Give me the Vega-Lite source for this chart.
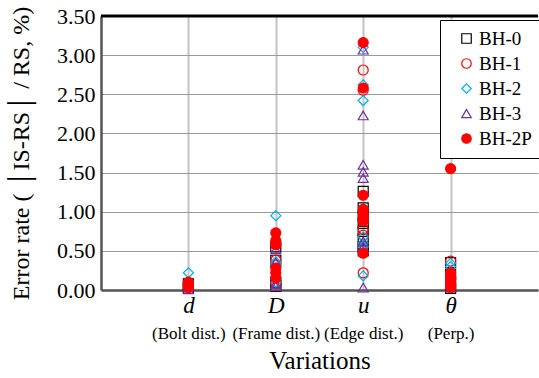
{
  "$schema": "https://vega.github.io/schema/vega-lite/v6.json",
  "width": 437,
  "height": 274,
  "autosize": {"type": "none"},
  "padding": {"left": 101, "top": 16, "right": 1, "bottom": 88},
  "config": {
    "view": {"stroke": null},
    "font": "Liberation Serif",
    "axis": {"labelFont": "Liberation Serif", "titleFont": "Liberation Serif", "labelColor": "#000", "titleColor": "#000", "titleFontWeight": "normal"},
    "legend": {"labelFont": "Liberation Serif", "titleFont": "Liberation Serif"}
  },
  "datasets": {
    "points": [
      {"variation": "d", "series": "BH-0", "value": 0.02},
      {"variation": "d", "series": "BH-0", "value": 0.05},
      {"variation": "d", "series": "BH-0", "value": 0.08},
      {"variation": "D", "series": "BH-0", "value": 0.55},
      {"variation": "D", "series": "BH-0", "value": 0.38},
      {"variation": "D", "series": "BH-0", "value": 0.1},
      {"variation": "D", "series": "BH-0", "value": 0.05},
      {"variation": "u", "series": "BH-0", "value": 1.26},
      {"variation": "u", "series": "BH-0", "value": 1.05},
      {"variation": "u", "series": "BH-0", "value": 0.95},
      {"variation": "u", "series": "BH-0", "value": 0.85},
      {"variation": "u", "series": "BH-0", "value": 0.75},
      {"variation": "u", "series": "BH-0", "value": 0.65},
      {"variation": "u", "series": "BH-0", "value": 0.55},
      {"variation": "u", "series": "BH-0", "value": 0.5},
      {"variation": "θ", "series": "BH-0", "value": 0.35},
      {"variation": "θ", "series": "BH-0", "value": 0.2},
      {"variation": "θ", "series": "BH-0", "value": 0.1},
      {"variation": "θ", "series": "BH-0", "value": 0.02},

      {"variation": "d", "series": "BH-1", "value": 0.03},
      {"variation": "d", "series": "BH-1", "value": 0.07},
      {"variation": "D", "series": "BH-1", "value": 0.58},
      {"variation": "D", "series": "BH-1", "value": 0.38},
      {"variation": "D", "series": "BH-1", "value": 0.32},
      {"variation": "D", "series": "BH-1", "value": 0.08},
      {"variation": "u", "series": "BH-1", "value": 2.81},
      {"variation": "u", "series": "BH-1", "value": 2.55},
      {"variation": "u", "series": "BH-1", "value": 0.9},
      {"variation": "u", "series": "BH-1", "value": 0.78},
      {"variation": "u", "series": "BH-1", "value": 0.7},
      {"variation": "u", "series": "BH-1", "value": 0.22},
      {"variation": "θ", "series": "BH-1", "value": 0.37},
      {"variation": "θ", "series": "BH-1", "value": 0.15},
      {"variation": "θ", "series": "BH-1", "value": 0.05},

      {"variation": "d", "series": "BH-2", "value": 0.22},
      {"variation": "d", "series": "BH-2", "value": 0.05},
      {"variation": "D", "series": "BH-2", "value": 0.95},
      {"variation": "D", "series": "BH-2", "value": 0.36},
      {"variation": "D", "series": "BH-2", "value": 0.33},
      {"variation": "D", "series": "BH-2", "value": 0.1},
      {"variation": "u", "series": "BH-2", "value": 3.1},
      {"variation": "u", "series": "BH-2", "value": 2.62},
      {"variation": "u", "series": "BH-2", "value": 2.42},
      {"variation": "u", "series": "BH-2", "value": 0.68},
      {"variation": "u", "series": "BH-2", "value": 0.6},
      {"variation": "u", "series": "BH-2", "value": 0.55},
      {"variation": "u", "series": "BH-2", "value": 0.18},
      {"variation": "θ", "series": "BH-2", "value": 0.34},
      {"variation": "θ", "series": "BH-2", "value": 0.3},
      {"variation": "θ", "series": "BH-2", "value": 0.1},

      {"variation": "d", "series": "BH-3", "value": 0.01},
      {"variation": "d", "series": "BH-3", "value": 0.04},
      {"variation": "D", "series": "BH-3", "value": 0.52},
      {"variation": "D", "series": "BH-3", "value": 0.35},
      {"variation": "D", "series": "BH-3", "value": 0.08},
      {"variation": "D", "series": "BH-3", "value": 0.05},
      {"variation": "u", "series": "BH-3", "value": 3.07},
      {"variation": "u", "series": "BH-3", "value": 2.23},
      {"variation": "u", "series": "BH-3", "value": 1.6},
      {"variation": "u", "series": "BH-3", "value": 1.51},
      {"variation": "u", "series": "BH-3", "value": 1.43},
      {"variation": "u", "series": "BH-3", "value": 0.62},
      {"variation": "u", "series": "BH-3", "value": 0.55},
      {"variation": "u", "series": "BH-3", "value": 0.03},
      {"variation": "θ", "series": "BH-3", "value": 0.03},
      {"variation": "θ", "series": "BH-3", "value": 0.08},

      {"variation": "d", "series": "BH-2P", "value": 0.03},
      {"variation": "d", "series": "BH-2P", "value": 0.06},
      {"variation": "d", "series": "BH-2P", "value": 0.1},
      {"variation": "D", "series": "BH-2P", "value": 0.73},
      {"variation": "D", "series": "BH-2P", "value": 0.63},
      {"variation": "D", "series": "BH-2P", "value": 0.58},
      {"variation": "D", "series": "BH-2P", "value": 0.28},
      {"variation": "D", "series": "BH-2P", "value": 0.22},
      {"variation": "D", "series": "BH-2P", "value": 0.15},
      {"variation": "u", "series": "BH-2P", "value": 3.16},
      {"variation": "u", "series": "BH-2P", "value": 2.58},
      {"variation": "u", "series": "BH-2P", "value": 1.21},
      {"variation": "u", "series": "BH-2P", "value": 1.03},
      {"variation": "u", "series": "BH-2P", "value": 0.98},
      {"variation": "u", "series": "BH-2P", "value": 0.93},
      {"variation": "u", "series": "BH-2P", "value": 0.88},
      {"variation": "u", "series": "BH-2P", "value": 0.47},
      {"variation": "θ", "series": "BH-2P", "value": 1.55},
      {"variation": "θ", "series": "BH-2P", "value": 0.22},
      {"variation": "θ", "series": "BH-2P", "value": 0.17},
      {"variation": "θ", "series": "BH-2P", "value": 0.12},
      {"variation": "θ", "series": "BH-2P", "value": 0.07},
      {"variation": "θ", "series": "BH-2P", "value": 0.03}
    ],
    "subs": [
      {"sub": "(Bolt dist.)"},
      {"sub": "(Frame dist.)"},
      {"sub": "(Edge dist.)"},
      {"sub": "(Perp.)"}
    ]
  },
  "layer": [
    {
      "data": {"name": "points"},
      "mark": {"type": "point", "size": 100, "strokeWidth": 1.2, "opacity": 1},
      "encoding": {
        "x": {
          "field": "variation",
          "type": "nominal",
          "sort": null,
          "scale": {"type": "point", "domain": ["d", "D", "u", "θ"], "padding": 1},
          "axis": {
            "orient": "bottom",
            "title": null,
            "labelAngle": 0,
            "labelFont": "Liberation Serif",
            "labelFontStyle": "italic",
            "labelFontSize": 23,
            "labelColor": "#000",
            "labelPadding": 4,
            "ticks": false,
            "grid": true,
            "gridColor": "#c4c4c4",
            "gridWidth": 2,
            "domainColor": "#555",
            "domainWidth": 2.5
          }
        },
        "y": {
          "field": "value",
          "type": "quantitative",
          "scale": {"domain": [0, 3.5], "nice": false, "zero": true},
          "axis": {
            "title": "Error rate ( │IS-RS│ / RS, %)",
            "titleFont": "Liberation Serif",
            "titleFontSize": 24,
            "titleFontWeight": "normal",
            "titleColor": "#000",
            "titlePadding": 23,
            "values": [0, 0.5, 1, 1.5, 2, 2.5, 3, 3.5],
            "format": ".2f",
            "labelFont": "Liberation Serif",
            "labelFontSize": 22,
            "labelColor": "#000",
            "labelPadding": 6,
            "labelOverlap": false,
            "labelFlush": false,
            "ticks": false,
            "grid": true,
            "gridColor": "#9a9a9a",
            "gridWidth": 1,
            "domainColor": "#555",
            "domainWidth": 2.5
          }
        },
        "shape": {
          "field": "series",
          "type": "nominal",
          "scale": {
            "domain": ["BH-0", "BH-1", "BH-2", "BH-3", "BH-2P"],
            "range": ["square", "circle", "diamond", "triangle-up", "circle"]
          },
          "legend": {
            "title": null,
            "orient": "none",
            "legendX": 339,
            "legendY": 4,
            "padding": 9,
            "strokeColor": "#000",
            "fillColor": "#fff",
            "labelFont": "Liberation Serif",
            "labelFontSize": 19,
            "labelColor": "#000",
            "labelOffset": 3,
            "rowPadding": 5,
            "symbolSize": 90,
            "symbolStrokeWidth": 1.2,
            "symbolOffset": 8
          }
        },
        "stroke": {
          "field": "series",
          "type": "nominal",
          "scale": {
            "domain": ["BH-0", "BH-1", "BH-2", "BH-3", "BH-2P"],
            "range": ["#000000", "#ff0000", "#00b0f0", "#7030a0", "#ff0000"]
          },
          "legend": {"title": null}
        },
        "fill": {
          "field": "series",
          "type": "nominal",
          "scale": {
            "domain": ["BH-0", "BH-1", "BH-2", "BH-3", "BH-2P"],
            "range": ["transparent", "transparent", "transparent", "transparent", "#ff0000"]
          },
          "legend": {"title": null}
        }
      }
    },
    {
      "data": {"name": "subs"},
      "mark": {"type": "text", "opacity": 0, "text": ""},
      "encoding": {
        "x": {
          "field": "sub",
          "type": "nominal",
          "sort": null,
          "scale": {"type": "point", "domain": ["(Bolt dist.)", "(Frame dist.)", "(Edge dist.)", "(Perp.)"], "padding": 1},
          "axis": {
            "orient": "bottom",
            "title": "Variations",
            "titleFont": "Liberation Serif",
            "titleFontSize": 25,
            "titleFontWeight": "normal",
            "titleColor": "#000",
            "titlePadding": 7,
            "labelAngle": 0,
            "labelFont": "Liberation Serif",
            "labelFontSize": 17,
            "labelColor": "#000",
            "labelPadding": 35,
            "labelOverlap": false,
            "ticks": false,
            "grid": false,
            "domain": false
          }
        }
      }
    },
    {
      "data": {"values": [{}]},
      "mark": {"type": "rule", "color": "#000", "strokeWidth": 3},
      "encoding": {
        "y": {
          "datum": 3.5,
          "type": "quantitative",
          "axis": {
            "title": "Error rate ( │IS-RS│ / RS, %)",
            "titleFont": "Liberation Serif",
            "titleFontSize": 24,
            "titleFontWeight": "normal",
            "titleColor": "#000",
            "titlePadding": 23,
            "values": [0, 0.5, 1, 1.5, 2, 2.5, 3, 3.5],
            "format": ".2f",
            "labelFont": "Liberation Serif",
            "labelFontSize": 22,
            "labelColor": "#000",
            "labelPadding": 6,
            "labelOverlap": false,
            "labelFlush": false,
            "ticks": false,
            "grid": true,
            "gridColor": "#9a9a9a",
            "gridWidth": 1,
            "domainColor": "#555",
            "domainWidth": 2.5
          }
        }
      }
    }
  ],
  "resolve": {"scale": {"x": "independent"}, "axis": {"x": "independent"}}
}
